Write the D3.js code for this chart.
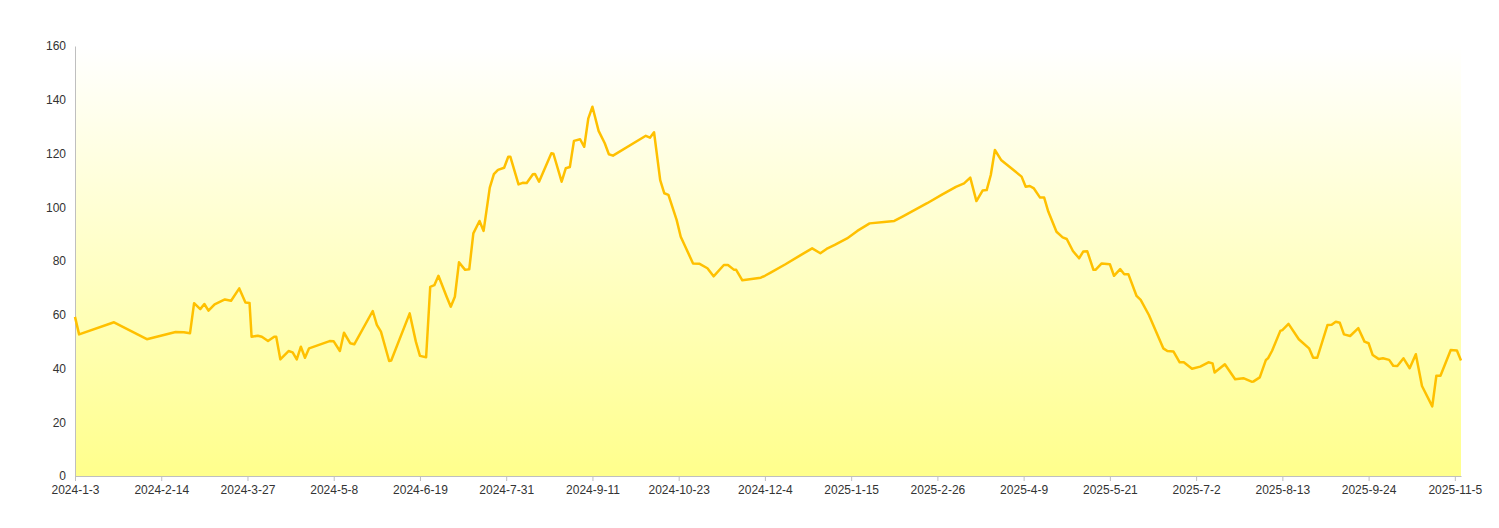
<!DOCTYPE html>
<html>
<head>
<meta charset="utf-8">
<script src="https://cdn.jsdelivr.net/npm/d3@7"></script>
<style>
  body { margin: 0; background: #fff; }
  .axis text { font-family: "Liberation Sans", Arial, sans-serif; font-size: 12px; fill: #333; }
  .axis path, .axis line { stroke: #bfbfbf; }
</style>
</head>
<body>
<div class="chart"></div>
<script>
// dates of the series
var dates = [
  "2024-01-03","2024-01-05","2024-01-22","2024-02-07","2024-02-21","2024-02-25","2024-02-28","2024-03-01",
  "2024-03-04","2024-03-06","2024-03-08","2024-03-11","2024-03-16","2024-03-19","2024-03-23","2024-03-26",
  "2024-03-28","2024-03-29","2024-04-01","2024-04-03","2024-04-06","2024-04-09","2024-04-10","2024-04-12",
  "2024-04-16","2024-04-18","2024-04-20","2024-04-22","2024-04-24","2024-04-26","2024-05-06","2024-05-08",
  "2024-05-11","2024-05-13","2024-05-16","2024-05-18","2024-05-27","2024-05-29","2024-05-31","2024-06-04",
  "2024-06-05","2024-06-14","2024-06-17","2024-06-19","2024-06-22","2024-06-24","2024-06-26","2024-06-28",
  "2024-07-02","2024-07-04","2024-07-06","2024-07-08","2024-07-11","2024-07-13","2024-07-15","2024-07-18",
  "2024-07-20","2024-07-23","2024-07-25","2024-07-27","2024-07-30","2024-08-01","2024-08-02","2024-08-06",
  "2024-08-08","2024-08-10","2024-08-13","2024-08-14","2024-08-16","2024-08-22","2024-08-23","2024-08-27",
  "2024-08-29","2024-08-31","2024-09-02","2024-09-05","2024-09-07","2024-09-09","2024-09-11","2024-09-14",
  "2024-09-17","2024-09-19","2024-09-21","2024-10-07","2024-10-09","2024-10-11","2024-10-14","2024-10-16",
  "2024-10-18","2024-10-22","2024-10-24","2024-10-30","2024-11-02","2024-11-06","2024-11-09","2024-11-14",
  "2024-11-16","2024-11-19","2024-11-20","2024-11-23","2024-12-02","2024-12-04","2024-12-07","2024-12-14",
  "2024-12-21","2024-12-27","2024-12-31","2025-01-03","2025-01-07","2025-01-13","2025-01-18","2025-01-24",
  "2025-01-31","2025-02-05","2025-02-09","2025-02-15","2025-02-21","2025-02-28","2025-03-07","2025-03-11",
  "2025-03-14","2025-03-17","2025-03-20","2025-03-22","2025-03-24","2025-03-26","2025-03-29","2025-04-08",
  "2025-04-10","2025-04-12","2025-04-14","2025-04-17","2025-04-19","2025-04-21","2025-04-25","2025-04-28",
  "2025-04-30","2025-05-03","2025-05-06","2025-05-08","2025-05-10","2025-05-13","2025-05-14","2025-05-17",
  "2025-05-21","2025-05-23","2025-05-26","2025-05-28","2025-05-30","2025-06-03","2025-06-05","2025-06-09",
  "2025-06-16","2025-06-18","2025-06-21","2025-06-24","2025-06-26","2025-06-30","2025-07-04","2025-07-08",
  "2025-07-10","2025-07-11","2025-07-16","2025-07-21","2025-07-25","2025-07-29","2025-07-30","2025-08-02",
  "2025-08-05","2025-08-06","2025-08-08","2025-08-12","2025-08-13","2025-08-16","2025-08-21","2025-08-26",
  "2025-08-28","2025-08-30","2025-09-04","2025-09-06","2025-09-08","2025-09-10","2025-09-12","2025-09-15",
  "2025-09-19","2025-09-22","2025-09-24","2025-09-26","2025-09-29","2025-10-01","2025-10-04","2025-10-06",
  "2025-10-08","2025-10-11","2025-10-14","2025-10-17","2025-10-20","2025-10-25","2025-10-27","2025-10-29",
  "2025-11-03","2025-11-06","2025-11-08"
];

var values = [
  59.2,52.7,57.2,50.9,53.6,53.5,53.1,64.3,
  62.1,64.0,61.5,63.9,65.7,65.2,69.8,64.6,
  64.4,51.8,52.2,51.8,50.2,51.8,51.8,43.4,
  46.5,46.0,43.4,48.1,44.0,47.5,50.2,50.1,
  46.5,53.3,49.4,49.0,61.4,56.2,53.7,42.8,
  43.0,60.5,50.0,44.7,44.2,70.4,71.0,74.5,
  66.7,63.0,66.7,79.5,76.7,76.9,90.3,94.9,
  91.2,107.3,112.3,113.9,114.7,118.8,118.8,108.5,
  109.1,109.0,112.3,112.4,109.5,120.1,119.9,109.5,
  114.5,115.0,124.7,125.3,122.5,133.1,137.4,128.4,
  123.8,119.7,119.2,126.6,125.9,127.9,110.1,105.2,
  104.6,95.3,89.0,79.1,79.0,77.3,74.3,78.5,
  78.5,76.7,76.7,72.8,73.8,74.5,75.8,78.8,
  82.0,84.7,82.9,84.5,86.0,88.4,91.2,94.0,
  94.5,94.9,96.5,99.0,101.5,104.6,107.6,108.9,
  111.0,102.3,106.2,106.4,112.0,121.3,117.6,111.4,
  107.6,107.9,107.0,103.6,103.6,98.4,90.9,88.8,
  88.2,83.7,81.0,83.5,83.6,76.7,76.7,79.1,
  78.8,74.5,77.0,75.1,75.1,67.0,65.5,59.9,
  47.5,46.5,46.3,42.3,42.3,39.9,40.7,42.3,
  41.9,38.5,41.6,36.0,36.4,35.1,35.2,36.7,
  43.2,43.8,46.6,54.0,54.3,56.6,50.9,47.5,
  44.0,44.0,56.2,56.3,57.4,57.0,52.7,52.1,
  55.0,50.0,49.4,45.0,43.5,43.8,43.2,41.0,
  40.9,43.8,40.1,45.3,33.5,25.9,37.3,37.3,
  46.9,46.7,43.0
];

// x ticks every 42 days
var xTickLabels = ["2024-1-3","2024-2-14","2024-3-27","2024-5-8","2024-6-19","2024-7-31","2024-9-11",
  "2024-10-23","2024-12-4","2025-1-15","2025-2-26","2025-4-9","2025-5-21","2025-7-2","2025-8-13",
  "2025-9-24","2025-11-5"];
var yTicks = [0, 20, 40, 60, 80, 100, 120, 140, 160];

var W = 1499, H = 528;
var margin = {top: 46, right: 38, bottom: 52, left: 75},
    width = W - margin.left - margin.right,
    height = H - margin.top - margin.bottom;

var parse = d3.timeParse("%Y-%m-%d"),
    parseTick = d3.timeParse("%Y-%-m-%-d");

var data = dates.map(function(d, i) { return {date: parse(d), value: values[i]}; });
var tickDates = xTickLabels.map(function(t) { return parseTick(t); });

var x = d3.scaleTime()
    .domain([parse("2024-01-03"), parse("2025-11-08")])
    .range([0, width]);
var y = d3.scaleLinear().domain([0, 160]).range([height, 0]);

var svg = d3.select(".chart").append("svg")
    .attr("width", W)
    .attr("height", H)
  .append("g")
    .attr("transform", "translate(" + margin.left + "," + margin.top + ")");

var grad = svg.append("defs").append("linearGradient")
    .attr("id", "bg")
    .attr("x1", 0).attr("y1", 0).attr("x2", 0).attr("y2", 1);
grad.append("stop").attr("offset", "0%").attr("stop-color", "#ffffff");
grad.append("stop").attr("offset", "100%").attr("stop-color", "#ffff8c");

svg.append("rect")
    .attr("width", width)
    .attr("height", height)
    .attr("fill", "url(#bg)");

// y axis, no tick marks
var yAxis = svg.append("g")
    .attr("class", "axis")
    .call(d3.axisLeft(y).tickValues(yTicks).tickSize(0).tickPadding(9));

// x axis
var xAxis = svg.append("g")
    .attr("class", "axis")
    .attr("transform", "translate(0," + height + ")")
    .call(d3.axisBottom(x).tickValues(tickDates).tickSizeInner(5).tickSizeOuter(0).tickPadding(4)
      .tickFormat(function(d, i) { return xTickLabels[i]; }));

var line = d3.line()
    .x(function(d) { return x(d.date); })
    .y(function(d) { return y(d.value); });

svg.append("path")
    .datum(data)
    .attr("fill", "none")
    .attr("stroke", "#ffc000")
    .attr("stroke-width", 2.5)
    .attr("stroke-linejoin", "round")
    .attr("d", line);
</script>
</body>
</html>
